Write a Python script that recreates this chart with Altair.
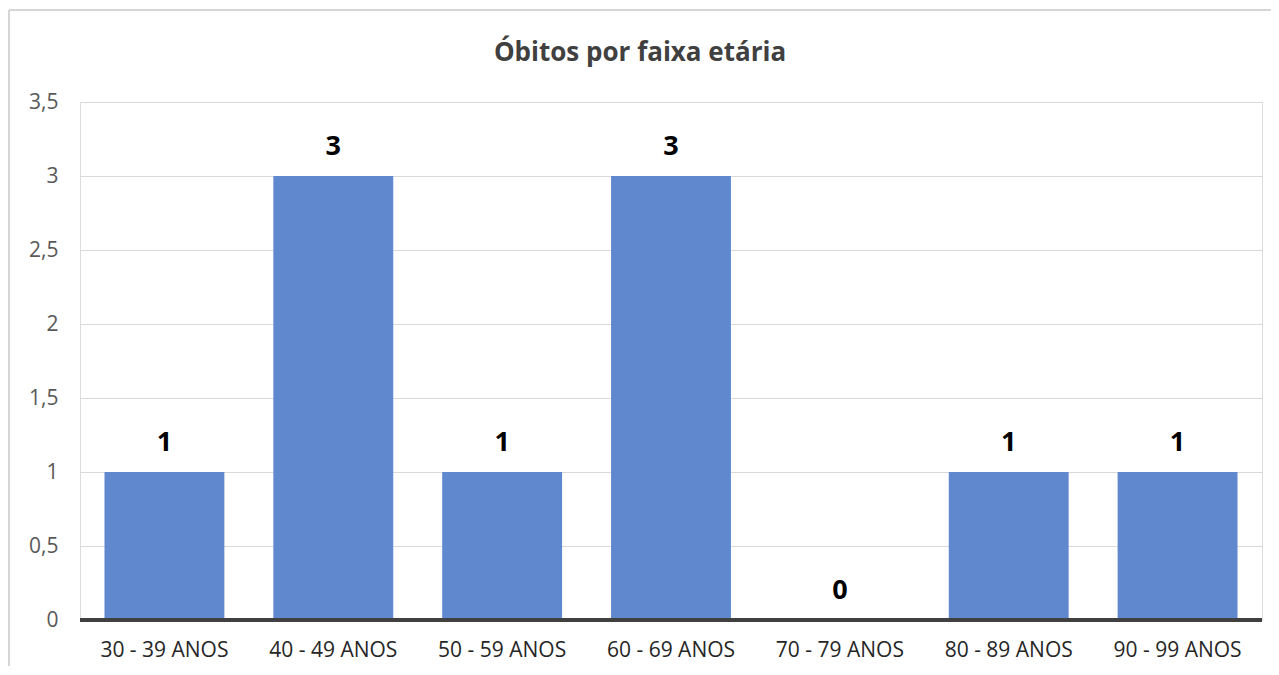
import altair as alt
import pandas as pd

categories = ["30 - 39 ANOS", "40 - 49 ANOS", "50 - 59 ANOS", "60 - 69 ANOS",
              "70 - 79 ANOS", "80 - 89 ANOS", "90 - 99 ANOS"]
values = [1, 3, 1, 3, 0, 1, 1]
y_ticks = [0, 0.5, 1, 1.5, 2, 2.5, 3, 3.5]
title_text = "Óbitos por faixa etária"

df = pd.DataFrame({"faixa": categories, "obitos": values})

FONT = "Open Sans"
W, H = 1182, 518

x = alt.X("faixa:N", sort=categories, title=None,
          scale=alt.Scale(paddingInner=0.29, paddingOuter=0.145),
          axis=alt.Axis(labelAngle=0, labelFontSize=21, labelColor="#262626",
                        labelFont=FONT, labelPadding=19, ticks=False,
                        domain=False, grid=False))
y = alt.Y("obitos:Q", title=None,
          scale=alt.Scale(domain=[0, 3.5], nice=False),
          axis=alt.Axis(values=y_ticks, labelExpr="replace(format(datum.value, '.1~f'), '.', ',')",
                        labelFontSize=21, labelColor="#595959", labelFont=FONT,
                        labelPadding=22, ticks=False, domain=False,
                        gridColor="#d9d9d9", gridWidth=1))

base = alt.Chart(df)

bars = base.mark_bar(color="#5F88CF").encode(x=x, y=y)

labels = base.mark_text(fontSize=27, fontWeight="bold", font=FONT, color="#000000",
                        baseline="bottom", dy=-15).encode(
    x=alt.X("faixa:N", sort=categories),
    y=alt.Y("obitos:Q"),
    text=alt.Text("obitos:Q"))

zero_line = alt.Chart(pd.DataFrame({"z": [0]})).mark_rule(
    color="#404040", strokeWidth=4).encode(
    y=alt.Y("z:Q"), x=alt.value(0), x2=alt.value(W))

title = alt.Chart(pd.DataFrame({"t": [title_text]})).mark_text(
    fontSize=26, fontWeight="bold", font=FONT, color="#404040",
    align="center", baseline="middle").encode(
    text="t:N", x=alt.value(W / 2 - 31), y=alt.value(-49))

border_left = alt.Chart(pd.DataFrame({"z": [0]})).mark_rule(
    color="#c8c8c8", strokeWidth=1.5).encode(
    x=alt.value(-71), y=alt.value(-92), y2=alt.value(H + 60))
border_top = alt.Chart(pd.DataFrame({"z": [0]})).mark_rule(
    color="#c8c8c8", strokeWidth=1.5).encode(
    x=alt.value(-71), x2=alt.value(W + 30), y=alt.value(-92))

chart = alt.layer(bars, labels, zero_line, title, border_left, border_top).properties(
    width=W, height=H,
    autosize=alt.AutoSizeParams(type="none"),
    padding={"left": 72, "top": 94, "right": 9, "bottom": 46},
).configure_view(stroke=None).configure(background="white")

chart.save("out.html", embed_options={"renderer": "svg", "actions": False})
